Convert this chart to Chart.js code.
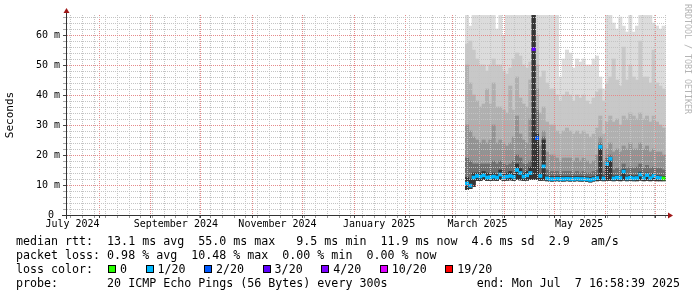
<!DOCTYPE html>
<html><head><meta charset="utf-8">
<script src="https://cdn.jsdelivr.net/npm/chart.js@4.4.1/dist/chart.umd.min.js"></script>
<style>
html,body{margin:0;padding:0;background:#fff;}
#wrap{position:relative;width:697px;height:297px;overflow:hidden;background:#fff;}
canvas{position:absolute;left:0;top:0;}
.lg{position:absolute;left:16px;font-family:'DejaVu Sans Mono',monospace;font-size:11.65px;line-height:14px;white-space:pre;color:#000;}
#lossrow{position:absolute;left:108px;top:262px;font-family:'DejaVu Sans Mono',monospace;font-size:11.65px;line-height:14px;white-space:pre;color:#000;display:flex;align-items:center;}
.sq{display:inline-block;width:6px;height:6px;border:1px solid #000;margin-right:4px;}
.lbl{display:inline-block;margin-right:18.5px;}
.wm{position:absolute;left:683px;top:4px;writing-mode:vertical-rl;font-family:'DejaVu Sans Mono',monospace;font-size:8.3px;color:#b4b4b4;white-space:pre;}
.end{position:absolute;right:17px;top:276px;font-family:'DejaVu Sans Mono',monospace;font-size:11.65px;line-height:14px;white-space:pre;color:#000;}
</style></head><body>
<div id="wrap">
<canvas id="c" width="697" height="297"></canvas>
<div class="wm">RRDTOOL / TOBI OETIKER</div>
<div class="lg" id="l1" style="top:234px"></div>
<div class="lg" id="l2" style="top:248px"></div>
<div class="lg" id="l3" style="top:262px">loss color:</div>
<div id="lossrow"></div>
<div class="lg" id="l4" style="top:276px"></div>
<div class="end" id="l5"></div>
</div>
<script>
// x values: days since Jul 12 2024 16:58:39 (graph start, 360 days before end)
const days = [240,242,244,246,248,250,252,254,256,258,260,262,264,266,268,270,272,274,276,278,280,282,284,286,288,290,292,294,296,298,300,302,304,306,308,310,312,314,316,318,320,322,324,326,328,330,332,334,336,338,340,342,344,346,348,350,352,354,356,358];
// median rtt (ms)
const median = [10.5,9.8,12.5,13.0,12.8,13.2,12.5,12.6,12.8,12.5, 13.5,12.6,12.8,13.0,12.7,15.0,14.0,12.8,13.2,14.0, 55.3,25.6,13.0,16.2,12.2,12.0,12.0,12.1,12.0,12.0, 12.1,12.0,12.0,12.1,12.0,12.0,11.9,11.7,12.0,12.3, 22.7,12.2,17.0,18.7,12.2,12.5,12.3,14.5,12.2,12.4, 12.2,12.3,13.5,12.3,13.3,12.3,13.0,12.5,12.3,12.2];
// loss class index (0 = 0, 1 = 1/20, 2 = 2/20, 3 = 3/20 ...)
const lossClass = [1,1,1,1,1,1,1,1,1,1, 1,1,1,1,1,1,1,1,1,1, 3,2,1,1,1,1,1,1,1,1, 1,1,1,1,1,1,1,1,1,1, 1,1,1,1,1,1,1,1,1,1, 1,1,1,1,1,1,1,1,1,0];
// smoke: upper edges of the ping bands (ms), outermost to innermost
const smokeMax = [70,63,70,70,70,70,70,70,70,62, 70,60,70,70,70,70,70,70,70,70, 70,70,70,70,70,70,70,70,46,52, 55,54,49,52,51,52,50,50,52,53, 46,42,70,70,64,62,66,63,61,70, 61,63,70,70,70,70,64,63,62,63];
const smoke2 = [57,58,55,52,50,50,48,50,52,50, 50,48,47,49,52,54,53,50,49,51, 70,60,46,48,44,42,42,40,38,40, 41,40,38,40,39,40,38,37,39,41, 42,38,44,46,52,45,43,56,45,50, 46,45,58,46,46,44,55,44,43,42];
const smoke3 = [50,44,40,38,36,37,42,37,44,36, 36,35,34,43,35,46,39,37,36,45, 70,50,34,36,31,30,30,28,27,28, 29,28,27,28,27,28,27,26,27,29, 33,27,31,33,31,32,30,33,32,34, 33,32,34,32,33,31,33,31,30,29];
const smoke4 = [30,28,26,25,24,25,24,25,30,24, 25,24,23,24,26,33,27,25,24,32, 70,42,23,28,21,20,20,19,18,19, 19,19,18,19,18,19,18,17,18,20, 26,18,22,24,21,22,21,23,22,24, 22,22,24,22,23,21,22,21,21,20];
const smoke5 = [19,18,17,17,17,17,17,17,18,17, 18,17,16.5,17,18,20,19,17,17,18, 70,35,16,26,15,14.5,14.5,14.5,14,14.5, 14.5,14.5,14,14.5,14,14.5,14,14,14.5,15, 24,14.5,19,20,15,15.5,15,17,15.5,16, 15.5,16,17,15.5,16.5,15.5,16,15.5,15.5,15];
const smokeInner = [12.5,12,14,14,14,14.5,14,13.5,14,13.5, 15,13.5,14,14.5,13.8,17,15.5,14,14.5,16, 70,27,13.8,25,13,12.8,12.8,12.9,12.8,12.8, 12.9,12.8,12.8,12.9,12.8,12.8,12.7,12.5,12.8,13.2, 23,13,17.5,19,13,13.2,13,15.2,13,13.2, 13,13.1,14.3,13,14,13,13.8,13.2,13,12.9];
const smokeMin = [8.5,8.8,9.5,11.5,11.5,11.8,11.5,11.5,11.6,11.5, 11.8,11.5,11.6,11.7,11.5,11.8,11.7,11.5,11.6,11.8, 11.8,11.8,11.5,11.6,11.4,11.3,11.3,11.4,11.3,11.3, 11.4,11.3,11.3,11.4,11.3,11.3,11.2,11.0,11.3,11.4, 11.5,11.4,11.5,11.5,11.4,11.5,11.4,11.6,11.4,11.5, 11.4,11.4,11.6,11.4,11.5,11.4,11.5,11.4,11.4,11.4];

const lossLabels = ['0','1/20','2/20','3/20','4/20','10/20','19/20'];
const lossColors = ['#26ff00','#00b8ff','#0059ff','#5e00ff','#7e00ff','#dd00ff','#ff0000'];

const yTickValues = [0,10,20,30,40,50,60];
const yTickLabels = ['0 ','10 m','20 m','30 m','40 m','50 m','60 m'];
const monthStartDays = [19.293,50.293,80.293,111.293,141.293,172.293,203.293,231.293,262.293,292.293,323.293,353.293];
const monthLabelDays = [3.293,65.293,126.293,187.293,246.293,307.293];
const monthLabels = ['July 2024','September 2024','November 2024','January 2025','March 2025','May 2025'];

const legendLines = {
  l1: 'median rtt:  13.1 ms avg  55.0 ms max   9.5 ms min  11.9 ms now  4.6 ms sd  2.9   am/s',
  l2: 'packet loss: 0.98 % avg  10.48 % max  0.00 % min  0.00 % now',
  l4: 'probe:       20 ICMP Echo Pings (56 Bytes) every 300s',
  l5: 'end: Mon Jul  7 16:58:39 2025'
};
for (const k in legendLines) document.getElementById(k).textContent = legendLines[k];
const row = document.getElementById('lossrow');
lossLabels.forEach((t,i)=>{
  const s=document.createElement('span'); s.className='sq'; s.style.background=lossColors[i]; row.appendChild(s);
  const l=document.createElement('span'); l.className='lbl'; l.textContent=t; row.appendChild(l);
});

// grid definitions
const Y_MAX = 66.67;
const yGrid = []; for (let v=0; v<=66; v+=2) yGrid.push(v);
const xTicks = [];
monthStartDays.forEach(d=>xTicks.push({v:d,kind:'major',label:''}));
for (let d=2.293; d<360; d+=7) xTicks.push({v:d,kind:'minor',label:''});
monthLabelDays.forEach((d,i)=>xTicks.push({v:d,kind:'label',label:monthLabels[i]}));
xTicks.sort((a,b)=>a.v-b.v);

const MAJOR='#e58a8a', MINOR='#c4c4c4';
const bandColors = ['#dcdcdc','#c8c8c8','#b0b0b0','#939393','#6e6e6e','#353535'];
const bandTops = [smokeMax, smoke2, smoke3, smoke4, smoke5, smokeInner];
const barCommon = {type:'bar', grouped:false, borderWidth:0, barPercentage:1, categoryPercentage:1, xAxisID:'x', yAxisID:'y'};
const datasets = [];
bandTops.forEach((tops,b)=>{
  datasets.push(Object.assign({}, barCommon, {order: 10-b, backgroundColor: bandColors[b],
    data: days.map((d,i)=>({x:d, y:[smokeMin[i], tops[i]]}))}));
});
datasets.push(Object.assign({}, barCommon, {order:0,
  backgroundColor: lossClass.map(c=>lossColors[c]),
  data: days.map((d,i)=>({x:d, y:[median[i]-0.5, median[i]+0.5]}))}));

const axesPlugin = {
  id:'axes',
  afterDraw(chart){
    const {ctx, chartArea:a} = chart;
    ctx.save();
    ctx.strokeStyle='#333'; ctx.lineWidth=1;
    ctx.beginPath();
    ctx.moveTo(a.left-5, a.bottom+0.5); ctx.lineTo(a.right+2, a.bottom+0.5);
    ctx.moveTo(a.left-0.5, a.bottom+4); ctx.lineTo(a.left-0.5, a.top-3);
    ctx.stroke();
    ctx.fillStyle='#a01818';
    ctx.beginPath();
    ctx.moveTo(a.right+1, a.bottom-2.5); ctx.lineTo(a.right+6, a.bottom+0.5); ctx.lineTo(a.right+1, a.bottom+3.5); ctx.closePath(); ctx.fill();
    ctx.beginPath();
    ctx.moveTo(a.left-3.5, a.top-2); ctx.lineTo(a.left-0.5, a.top-7); ctx.lineTo(a.left+2.5, a.top-2); ctx.closePath(); ctx.fill();
    ctx.restore();
  }
};

new Chart(document.getElementById('c'), {
  data:{datasets},
  options:{
    responsive:false, animation:false, devicePixelRatio:1,
    layout:{padding:{left:0,top:15,right:30,bottom:0}},
    plugins:{legend:{display:false}, tooltip:{enabled:false}},
    scales:{
      x:{type:'linear', position:'bottom', min:0, max:360, offset:false,
        afterBuildTicks(s){ s.ticks = [{value:0},{value:360}]; },
        afterFit(s){ s.height = 0; },
        ticks:{display:false}, grid:{display:false}, border:{display:false}},
      xg:{type:'linear', position:'bottom', min:0, max:360, offset:false,
        afterBuildTicks(s){ s.ticks = xTicks.map(t=>({value:t.v})); },
        afterFit(s){ s.height = 82; },
        ticks:{autoSkip:false, maxRotation:0, minRotation:0, padding:0, color:'#000',
          font:{family:'DejaVu Sans Mono', size:10},
          callback(v,i){ return xTicks[i] ? xTicks[i].label : ''; }},
        grid:{z:1, lineWidth:1, tickLength:3,
          color(ctx){ const t=xTicks[ctx.index]; if(!t) return 'rgba(0,0,0,0)'; return t.kind==='major'?MAJOR:(t.kind==='minor'?MINOR:'rgba(0,0,0,0)'); },
          tickColor(ctx){ const t=xTicks[ctx.index]; if(!t) return 'rgba(0,0,0,0)'; return t.kind==='major'?'#444':(t.kind==='minor'?'#999':'rgba(0,0,0,0)'); }},
        border:{display:false, dash:[1,1]}
      },
      y:{type:'linear', min:0, max:Y_MAX,
        afterBuildTicks(s){ s.ticks = yGrid.map(v=>({value:v})); },
        afterFit(s){ s.width = 67; },
        ticks:{autoSkip:false, padding:3, color:'#000', font:{family:'DejaVu Sans Mono', size:10},
          callback(v){ const k=yTickValues.indexOf(v); return k>=0 ? yTickLabels[k] : ''; }},
        grid:{z:1, lineWidth:1, tickLength:4,
          color(ctx){ const v=ctx.tick.value; if(v===0) return 'rgba(0,0,0,0)'; return v%10===0?MAJOR:MINOR; },
          tickColor(ctx){ const v=ctx.tick.value; return v%10===0?'#444':'#aaa'; }},
        border:{display:false, dash:[1,1]},
        title:{display:true, text:'Seconds', color:'#000', font:{family:'DejaVu Sans Mono', size:11}, padding:{top:4,bottom:0}}
      }
    }
  },
  plugins:[axesPlugin]
});
</script>
</body></html>
